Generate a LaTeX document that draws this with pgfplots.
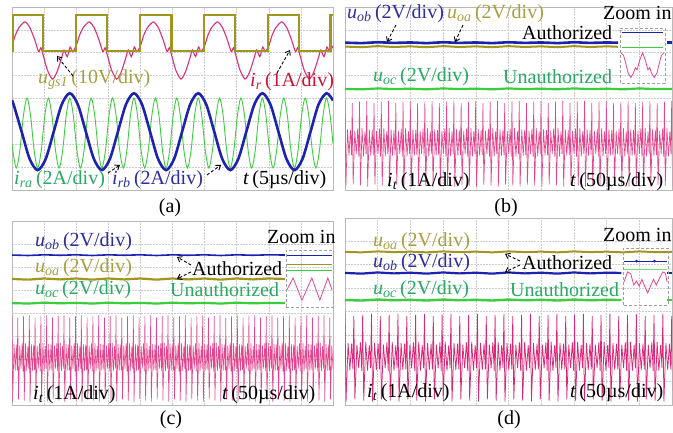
\documentclass[border=0pt]{standalone}
\usepackage{fontspec}
\setmainfont{Liberation Serif}
\usepackage{pgfplots}
\pgfplotsset{compat=1.18}
\usepackage{pgfplotstable}
\usetikzlibrary{arrows.meta}

\definecolor{olv}{RGB}{160,150,30}
\definecolor{olvtxt}{RGB}{168,158,62}
\definecolor{pnk}{RGB}{222,45,125}
\definecolor{pnk2}{RGB}{228,70,142}
\definecolor{pnk3}{RGB}{218,40,120}
\definecolor{redtxt}{RGB}{200,20,50}
\definecolor{blu}{RGB}{30,35,175}
\definecolor{blutxt}{RGB}{45,45,160}
\definecolor{grn}{RGB}{60,205,60}
\definecolor{grntxt}{RGB}{40,170,100}

\newcommand{\sub}[2]{\textit{#1}\textsubscript{\textit{#2}}}

\pgfplotsset{
  osc/.style={scale only axis, anchor=south west, xmin=0, xmax=10, ymin=0, ymax=8,
    xtick={1,...,9}, ytick={1,...,7}, xticklabels={}, yticklabels={},
    major tick length=0pt, grid=major,
    major grid style={gray!40, dash pattern=on 1.5pt off 1.5pt, line width=0.5pt},
    axis line style={gray!55, line width=0.6pt}},
  ins/.style={scale only axis, anchor=south west, hide axis, xmin=0, xmax=1, ymin=0, ymax=1}
}

\pgfplotstableread[row sep=\\]{
x y\\
0 3.9\\0.12 0.15\\0.35 2.65\\0.55 1.5\\0.75 2.62\\0.9 1.52\\
1 3.8\\1.12 0.24\\1.35 2.58\\1.55 1.58\\1.75 2.68\\1.9 1.46\\
2 3.86\\2.12 0.19\\2.35 2.7\\2.55 1.47\\2.75 2.56\\2.9 1.58\\
3 3.9\\3.12 0.15\\3.35 2.65\\3.55 1.5\\3.75 2.62\\3.9 1.52\\
4 3.8\\4.12 0.24\\4.35 2.58\\4.55 1.58\\4.75 2.68\\4.9 1.46\\
5 3.86\\5.12 0.19\\5.35 2.7\\5.55 1.47\\5.75 2.56\\5.9 1.58\\
6 3.9\\6.12 0.15\\6.35 2.65\\6.55 1.5\\6.75 2.62\\6.9 1.52\\
7 3.8\\7.12 0.24\\7.35 2.58\\7.55 1.58\\7.75 2.68\\7.9 1.46\\
8 3.86\\8.12 0.19\\8.35 2.7\\8.55 1.47\\8.75 2.56\\8.9 1.58\\
9 3.9\\9.12 0.15\\9.35 2.65\\9.55 1.5\\9.75 2.62\\9.9 1.52\\
10 3.8\\10.12 0.24\\10.35 2.58\\10.55 1.58\\10.75 2.68\\10.9 1.46\\
11 3.86\\11.12 0.19\\11.35 2.7\\11.55 1.47\\11.75 2.56\\11.9 1.58\\
12 3.9\\12.12 0.15\\12.35 2.65\\12.55 1.5\\12.75 2.62\\12.9 1.52\\
13 3.8\\13.12 0.24\\13.35 2.58\\13.55 1.58\\13.75 2.68\\13.9 1.46\\
14 3.86\\14.12 0.19\\14.35 2.7\\14.55 1.47\\14.75 2.56\\14.9 1.58\\
15 3.9\\15.12 0.15\\15.35 2.65\\15.55 1.5\\15.75 2.62\\15.9 1.52\\
16 3.8\\16.12 0.24\\16.35 2.58\\16.55 1.58\\16.75 2.68\\16.9 1.46\\
17 3.86\\17.12 0.19\\17.35 2.7\\17.55 1.47\\17.75 2.56\\17.9 1.58\\
18 3.9\\18.12 0.15\\18.35 2.65\\18.55 1.5\\18.75 2.62\\18.9 1.52\\
19 3.8\\19.12 0.24\\19.35 2.58\\19.55 1.58\\19.75 2.68\\19.9 1.46\\
20 3.86\\20.12 0.19\\20.35 2.7\\20.55 1.47\\20.75 2.56\\20.9 1.58\\
21 3.9\\21.12 0.15\\21.35 2.65\\21.55 1.5\\21.75 2.62\\21.9 1.52\\
22 3.8\\22.12 0.24\\22.35 2.58\\22.55 1.58\\22.75 2.68\\22.9 1.46\\
23 3.86\\23.12 0.19\\23.35 2.7\\23.55 1.47\\23.75 2.56\\23.9 1.58\\
24 3.9\\24.12 0.15\\24.35 2.65\\24.55 1.5\\24.75 2.62\\24.9 1.52\\
25 3.8\\25.12 0.24\\25.35 2.58\\25.55 1.58\\25.75 2.68\\25.9 1.46\\
26 3.86\\26.12 0.19\\26.35 2.7\\26.55 1.47\\26.75 2.56\\26.9 1.58\\
27 3.9\\27.12 0.15\\27.35 2.65\\27.55 1.5\\27.75 2.62\\27.9 1.52\\
28 3.8\\28.12 0.24\\28.35 2.58\\28.55 1.58\\28.75 2.68\\28.9 1.46\\
29 3.86\\29.12 0.19\\29.35 2.7\\29.55 1.47\\29.75 2.56\\29.9 1.58\\
30 3.9\\30.12 0.15\\30.35 2.65\\30.55 1.5\\30.75 2.62\\30.9 1.52\\
31 3.8\\31.12 0.24\\31.35 2.58\\31.55 1.58\\31.75 2.68\\31.9 1.46\\
32 3.86\\32.12 0.19\\32.35 2.7\\32.55 1.47\\32.75 2.56\\32.9 1.58\\
33 3.9\\33.12 0.15\\33.35 2.65\\33.55 1.5\\33.75 2.62\\33.9 1.52\\
34 3.8\\34.12 0.24\\34.35 2.58\\34.55 1.58\\34.75 2.68\\34.9 1.46\\
35 3.86\\35.12 0.19\\35.35 2.7\\35.55 1.47\\35.75 2.56\\35.9 1.58\\
36 3.9\\36.12 0.15\\36.35 2.65\\36.55 1.5\\36.75 2.62\\36.9 1.52\\
37 3.8\\37.12 0.24\\37.35 2.58\\37.55 1.58\\37.75 2.68\\37.9 1.46\\
38 3.86\\38.12 0.19\\38.35 2.7\\38.55 1.47\\38.75 2.56\\38.9 1.58\\
39 3.9\\39.12 0.15\\39.35 2.65\\39.55 1.5\\39.75 2.62\\39.9 1.52\\
40 3.8\\40.12 0.24\\40.35 2.58\\40.55 1.58\\40.75 2.68\\40.9 1.46\\
41 3.86\\41.12 0.19\\41.35 2.7\\41.55 1.47\\41.75 2.56\\41.9 1.58\\
42 3.9\\42.12 0.15\\42.35 2.65\\42.55 1.5\\42.75 2.62\\42.9 1.52\\
43 3.8\\43.12 0.24\\43.35 2.58\\43.55 1.58\\43.75 2.68\\43.9 1.46\\
44 3.86\\44.12 0.19\\44.35 2.7\\44.55 1.47\\44.75 2.56\\44.9 1.58\\
45 3.9\\45.12 0.15\\45.35 2.65\\45.55 1.5\\45.75 2.62\\45.9 1.52\\
46 3.8\\46.12 0.24\\46.35 2.58\\46.55 1.58\\46.75 2.68\\46.9 1.46\\
47 3.86\\47.12 0.19\\47.35 2.7\\47.55 1.47\\47.75 2.56\\47.9 1.58\\
48 3.9\\48.12 0.15\\48.35 2.65\\48.55 1.5\\48.75 2.62\\48.9 1.52\\
49 3.8\\49.12 0.24\\49.35 2.58\\49.55 1.58\\49.75 2.68\\49.9 1.46\\
50 3.86\\50.12 0.19\\50.35 2.7\\50.55 1.47\\50.75 2.56\\50.9 1.58\\
51 3.9\\51.12 0.15\\51.35 2.65\\51.55 1.5\\51.75 2.62\\51.9 1.52\\
52 3.8\\52.12 0.24\\52.35 2.58\\52.55 1.58\\52.75 2.68\\52.9 1.46\\
53 3.86\\53.12 0.19\\53.35 2.7\\53.55 1.47\\53.75 2.56\\53.9 1.58\\
54 3.9\\54.12 0.15\\54.35 2.65\\54.55 1.5\\54.75 2.62\\54.9 1.52\\
55 3.8\\55.12 0.24\\55.35 2.58\\55.55 1.58\\55.75 2.68\\55.9 1.46\\
56 3.86\\56.12 0.19\\56.35 2.7\\56.55 1.47\\56.75 2.56\\56.9 1.58\\
57 3.9\\57.12 0.15\\57.35 2.65\\57.55 1.5\\57.75 2.62\\57.9 1.52\\
58 3.8\\58.12 0.24\\58.35 2.58\\58.55 1.58\\58.75 2.68\\58.9 1.46\\
59 3.86\\59.12 0.19\\59.35 2.7\\59.55 1.47\\59.75 2.56\\59.9 1.58\\
60 3.9\\60.12 0.15\\60.35 2.65\\60.55 1.5\\
}\pinktab

\tikzset{ann/.style={densely dashed, line width=0.9pt, black, -{Straight Barb[length=4pt,width=6pt]}}}

\begin{document}
\begin{tikzpicture}[x=1pt, y=1pt, every node/.style={font=\fontsize{20}{22}\selectfont, inner sep=0pt}]
\useasboundingbox (0,0) rectangle (673,433);

% ---------------- (a) ----------------
\begin{axis}[osc, at={(12pt,243pt)}, width=321pt, height=183pt]
\addplot[pnk, line width=1.1pt, smooth, tension=0.4] coordinates {
(0,6.3)(0.1,6.75)(0.22,7.1)(0.4,7.35)(0.55,7.12)(0.7,6.6)(0.83,6.05)(0.9,6.22)(0.97,5.9)(1.1,5.25)(1.26,4.85)(1.4,5.15)(1.55,5.8)(1.62,6.12)(1.72,5.83)(1.81,6.25)(1.89,6.05)
(2,6.3)(2.1,6.75)(2.22,7.1)(2.4,7.35)(2.55,7.12)(2.7,6.6)(2.83,6.05)(2.9,6.22)(2.97,5.9)(3.1,5.25)(3.26,4.85)(3.4,5.15)(3.55,5.8)(3.62,6.12)(3.72,5.83)(3.81,6.25)(3.89,6.05)
(4,6.3)(4.1,6.75)(4.22,7.1)(4.4,7.35)(4.55,7.12)(4.7,6.6)(4.83,6.05)(4.9,6.22)(4.97,5.9)(5.1,5.25)(5.26,4.85)(5.4,5.15)(5.55,5.8)(5.62,6.12)(5.72,5.83)(5.81,6.25)(5.89,6.05)
(6,6.3)(6.1,6.75)(6.22,7.1)(6.4,7.35)(6.55,7.12)(6.7,6.6)(6.83,6.05)(6.9,6.22)(6.97,5.9)(7.1,5.25)(7.26,4.85)(7.4,5.15)(7.55,5.8)(7.62,6.12)(7.72,5.83)(7.81,6.25)(7.89,6.05)
(8,6.3)(8.1,6.75)(8.22,7.1)(8.4,7.35)(8.55,7.12)(8.7,6.6)(8.83,6.05)(8.9,6.22)(8.97,5.9)(9.1,5.25)(9.26,4.85)(9.4,5.15)(9.55,5.8)(9.62,6.12)(9.72,5.83)(9.81,6.25)(9.89,6.05)
(10,6.3)};
\addplot[olv, line width=2.2pt] coordinates {(0,6.08)(0.02,6.08)(0.02,7.65)(0.97,7.65)(0.97,6.08)(1.99,6.08)(1.99,7.65)(2.97,7.65)(2.97,6.08)(3.99,6.08)(3.99,7.65)(4.97,7.65)(4.97,6.08)(5.97,6.08)(5.97,7.65)(6.95,7.65)(6.95,6.08)(7.98,6.08)(7.98,7.65)(8.93,7.65)(8.93,6.08)(9.92,6.08)(9.92,7.65)(10,7.65)};
\addplot[olv, line width=2.4pt, unbounded coords=jump] coordinates {(0.97,6.08)(1.99,6.08)(nan,nan)(2.97,6.08)(3.99,6.08)(nan,nan)(4.97,6.08)(5.97,6.08)(nan,nan)(6.95,6.08)(7.98,6.08)(nan,nan)(8.93,6.08)(9.92,6.08)};
\addplot[grn, line width=0.9pt, smooth] coordinates {
(0,2.02)(0.022,1.73)(0.133,0.96)(0.244,1.73)(0.356,3.25)(0.467,4.02)(0.578,3.25)(0.689,1.73)
(0.8,0.96)(0.911,1.73)(1.022,3.25)(1.133,4.02)(1.244,3.25)(1.356,1.73)
(1.467,0.96)(1.578,1.73)(1.689,3.25)(1.8,4.02)(1.911,3.25)(2.022,1.73)
(2.133,0.96)(2.244,1.73)(2.356,3.25)(2.467,4.02)(2.578,3.25)(2.689,1.73)
(2.8,0.96)(2.911,1.73)(3.022,3.25)(3.133,4.02)(3.244,3.25)(3.356,1.73)
(3.467,0.96)(3.578,1.73)(3.689,3.25)(3.8,4.02)(3.911,3.25)(4.022,1.73)
(4.133,0.96)(4.244,1.73)(4.356,3.25)(4.467,4.02)(4.578,3.25)(4.689,1.73)
(4.8,0.96)(4.911,1.73)(5.022,3.25)(5.133,4.02)(5.244,3.25)(5.356,1.73)
(5.467,0.96)(5.578,1.73)(5.689,3.25)(5.8,4.02)(5.911,3.25)(6.022,1.73)
(6.133,0.96)(6.244,1.73)(6.356,3.25)(6.467,4.02)(6.578,3.25)(6.689,1.73)
(6.8,0.96)(6.911,1.73)(7.022,3.25)(7.133,4.02)(7.244,3.25)(7.356,1.73)
(7.467,0.96)(7.578,1.73)(7.689,3.25)(7.8,4.02)(7.911,3.25)(8.022,1.73)
(8.133,0.96)(8.244,1.73)(8.356,3.25)(8.467,4.02)(8.578,3.25)(8.689,1.73)
(8.8,0.96)(8.911,1.73)(9.022,3.25)(9.133,4.02)(9.244,3.25)(9.356,1.73)
(9.467,0.96)(9.578,1.73)(9.689,3.25)(9.8,4.02)(9.911,3.25)(10,2.02)};
\addplot[blu, line width=2.6pt, smooth] coordinates {
(0,3.91)(0.05,3.74)(0.3,2.55)(0.55,1.36)(0.8,0.87)(1.05,1.36)(1.3,2.55)(1.55,3.74)(1.8,4.23)
(2.05,3.74)(2.3,2.55)(2.55,1.36)(2.8,0.87)(3.05,1.36)(3.3,2.55)(3.55,3.74)(3.8,4.23)
(4.05,3.74)(4.3,2.55)(4.55,1.36)(4.8,0.87)(5.05,1.36)(5.3,2.55)(5.55,3.74)(5.8,4.23)
(6.05,3.74)(6.3,2.55)(6.55,1.36)(6.8,0.87)(7.05,1.36)(7.3,2.55)(7.55,3.74)(7.8,4.23)
(8.05,3.74)(8.3,2.55)(8.55,1.36)(8.8,0.87)(9.05,1.36)(9.3,2.55)(9.55,3.74)(9.8,4.23)(10,3.91)};
\end{axis}

% ---------------- (b) ----------------
\begin{axis}[osc, at={(345pt,243pt)}, width=327pt, height=183pt]
\addplot[olv, line width=2pt] coordinates {(0,6.27)(0.5,6.24)(1,6.29)(1.5,6.25)(2,6.28)(2.5,6.24)(3,6.29)(3.5,6.25)(4,6.28)(4.5,6.24)(5,6.29)(5.5,6.25)(6,6.28)(6.5,6.24)(7,6.29)(7.5,6.25)(8,6.28)(8.35,6.26)};
\addplot[blu, line width=2.6pt] coordinates {(0,6.44)(0.5,6.42)(1,6.46)(1.5,6.43)(2,6.45)(2.5,6.42)(3,6.46)(3.5,6.43)(4,6.45)(4.5,6.42)(5,6.46)(5.5,6.43)(6,6.45)(6.5,6.42)(7,6.46)(7.5,6.43)(8,6.45)(8.35,6.44)};
\addplot[blu, line width=2.6pt] coordinates {(9.85,6.44)(10,6.44)};
\addplot[grn, line width=2.2pt] coordinates {(0,4.42)(0.5,4.4)(1,4.44)(1.5,4.41)(2,4.43)(2.5,4.4)(3,4.44)(3.5,4.41)(4,4.43)(4.5,4.4)(5,4.44)(5.5,4.41)(6,4.43)(6.5,4.4)(7,4.44)(7.5,4.41)(8,4.43)(8.5,4.4)(9,4.44)(9.5,4.41)(10,4.42)};
\addplot[pnk2, line width=0.65pt] table[x expr=\thisrow{x}*0.222, y=y] {\pinktab};
\end{axis}
\begin{axis}[ins, at={(620pt,350pt)}, width=45pt, height=55pt]
\addplot[blu, line width=1pt] coordinates {(0.05,0.91)(0.95,0.91)};
\addplot[grn, line width=1pt] coordinates {(0.05,0.64)(0.95,0.64)};
\addplot[pnk2, line width=0.8pt] coordinates {(0.02,0.55)(0.08,0.5)(0.13,0.35)(0.18,0.18)(0.24,0.1)(0.3,0.18)(0.34,0.28)(0.38,0.24)(0.44,0.42)(0.5,0.55)(0.56,0.42)(0.62,0.24)(0.66,0.28)(0.7,0.18)(0.76,0.1)(0.82,0.18)(0.87,0.35)(0.92,0.5)(0.98,0.55)};
\end{axis}
\draw[densely dashed, gray!75, line width=0.8pt] (620,350) rectangle (665,405);

% ---------------- (c) ----------------
\begin{axis}[osc, at={(12pt,28pt)}, width=321pt, height=184pt]
\addplot[blu, line width=1.6pt] coordinates {(0,6.52)(0.5,6.5)(1,6.53)(1.5,6.51)(2,6.53)(2.5,6.5)(3,6.53)(3.5,6.51)(4,6.53)(4.5,6.5)(5,6.53)(5.5,6.51)(6,6.53)(6.5,6.5)(7,6.53)(7.5,6.51)(8,6.53)(8.5,6.52)};
\addplot[olv, line width=2.2pt] coordinates {(0,5.48)(0.5,5.45)(1,5.5)(1.5,5.46)(2,5.5)(2.5,5.45)(3,5.5)(3.5,5.46)(4,5.5)(4.5,5.45)(5,5.5)(5.5,5.46)(6,5.5)(6.5,5.45)(7,5.5)(7.5,5.46)(8,5.5)(8.5,5.48)};
\addplot[grn, line width=2.2pt] coordinates {(0,4.43)(0.5,4.41)(1,4.45)(1.5,4.42)(2,4.44)(2.5,4.41)(3,4.45)(3.5,4.42)(4,4.44)(4.5,4.41)(5,4.45)(5.5,4.42)(6,4.44)(6.5,4.41)(7,4.45)(7.5,4.42)(8,4.44)(8.5,4.43)};
\addplot[pnk2, line width=0.6pt] table[x expr=\thisrow{x}*0.18, y=y] {\pinktab};
\end{axis}
\begin{axis}[ins, at={(286pt,126pt)}, width=47pt, height=57pt]
\addplot[blu, line width=0.8pt] coordinates {(0.03,0.91)(0.97,0.91)};
\addplot[olv, line width=0.8pt] coordinates {(0.03,0.74)(0.97,0.74)};
\addplot[grn, line width=0.8pt] coordinates {(0.03,0.65)(0.97,0.65)};
\addplot[pnk2, line width=0.8pt] coordinates {(0.02,0.3)(0.15,0.51)(0.34,0.12)(0.55,0.51)(0.72,0.12)(0.89,0.51)(0.98,0.3)};
\end{axis}
\draw[densely dashed, gray!75, line width=0.8pt] (286,126) rectangle (333,183);

% ---------------- (d) ----------------
\begin{axis}[osc, at={(345pt,28pt)}, width=327pt, height=187pt]
\addplot[olv, line width=2pt] coordinates {(0,6.55)(0.5,6.53)(1,6.57)(1.5,6.54)(2,6.56)(2.5,6.53)(3,6.57)(3.5,6.54)(4,6.56)(4.5,6.53)(5,6.57)(5.5,6.54)(6,6.56)(6.5,6.53)(7,6.57)(7.5,6.54)(8,6.56)(8.5,6.53)(9,6.57)(9.5,6.54)(10,6.55)};
\addplot[blu, line width=2.2pt] coordinates {(0,5.65)(0.5,5.62)(1,5.67)(1.5,5.63)(2,5.66)(2.5,5.62)(3,5.67)(3.5,5.63)(4,5.66)(4.5,5.62)(5,5.67)(5.5,5.63)(6,5.66)(6.5,5.62)(7,5.67)(7.5,5.63)(8,5.66)(8.45,5.65)};
\addplot[blu, line width=2.2pt] coordinates {(9.85,5.65)(10,5.65)};
\addplot[grn, line width=2.4pt] coordinates {(0,4.49)(0.5,4.47)(1,4.51)(1.5,4.48)(2,4.5)(2.5,4.47)(3,4.51)(3.5,4.48)(4,4.5)(4.5,4.47)(5,4.51)(5.5,4.48)(6,4.5)(6.5,4.47)(7,4.51)(7.5,4.48)(8,4.5)(8.45,4.49)};
\addplot[grn, line width=2.4pt] coordinates {(9.85,4.49)(10,4.49)};
\addplot[pnk3, line width=0.75pt] table[x expr=\thisrow{x}*0.27, y=y] {\pinktab};
\end{axis}
\begin{axis}[ins, at={(623pt,128pt)}, width=45pt, height=57pt]
\addplot[blu, line width=0.8pt, mark=*, mark size=1pt, mark indices={2,4}] coordinates {(0.03,0.77)(0.3,0.77)(0.5,0.77)(0.7,0.77)(0.97,0.77)};
\addplot[grn!70, line width=0.8pt] coordinates {(0.03,0.63)(0.97,0.63)};
\addplot[pnk2, line width=0.8pt] coordinates {(0.02,0.4)(0.1,0.58)(0.17,0.55)(0.24,0.35)(0.3,0.42)(0.36,0.33)(0.42,0.45)(0.48,0.33)(0.55,0.21)(0.62,0.35)(0.68,0.45)(0.74,0.35)(0.8,0.45)(0.88,0.58)(0.94,0.56)(0.98,0.4)};
\end{axis}
\draw[densely dashed, gray!75, line width=0.8pt] (623,128) rectangle (668,185);

% ---------------- text: (a) ----------------
\node[anchor=west, text=olvtxt] at (38,353) {\sub{u}{gs1}\,(10V/div)};
\node[anchor=west, text=redtxt] at (250,351) {\sub{i}{r}\,(1A/div)};
\node[anchor=west, text=grntxt] at (14,253) {\sub{i}{ra}\,(2A/div)};
\node[anchor=west, text=blutxt] at (112,253) {\sub{i}{rb}\,(2A/div)};
\node[anchor=west, text=black] at (243,253) {\textit{t}\,(5µs/div)};
\node at (170,225) {(a)};
\draw[ann] (73,357) -- (57,377);
\draw[ann] (277,360) -- (290,383);
\draw[ann] (108,260) -- (120,268);
\draw[ann] (207,258) -- (221,268);

% ---------------- text: (b) ----------------
\node[anchor=west, text=blutxt] at (347,419) {\sub{u}{ob}\,(2V/div)};
\node[anchor=west, text=olvtxt] at (447,419) {\sub{u}{oa}\,(2V/div)};
\node[anchor=west] at (603,420) {Zoom in};
\node[anchor=west] at (522,400) {Authorized};
\node[anchor=west, text=grntxt] at (373,356) {\sub{u}{oc}\,(2V/div)};
\node[anchor=west, text=grntxt] at (503,356) {Unauthorized};
\node[anchor=west] at (387,251) {\sub{i}{t}\,(1A/div)};
\node[anchor=west] at (570,251) {\textit{t}\,(50µs/div)};
\node at (506,225) {(b)};
\draw[ann] (396,408) -- (387,391);
\draw[ann] (463,408) -- (455,391);

% ---------------- text: (c) ----------------
\node[anchor=west, text=blutxt] at (35,191) {\sub{u}{ob}\,(2V/div)};
\node[anchor=west] at (267,196) {Zoom in};
\node[anchor=west, text=olvtxt] at (35,165) {\sub{u}{oa}\,(2V/div)};
\node[anchor=west] at (192,164) {Authorized};
\node[anchor=west, text=grntxt] at (35,143) {\sub{u}{oc}\,(2V/div)};
\node[anchor=west, text=grntxt] at (170,143) {Unauthorized};
\node[anchor=west] at (33,38) {\sub{i}{t}\,(1A/div)};
\node[anchor=west] at (222,38) {\textit{t}\,(50µs/div)};
\node at (171,13) {(c)};
\draw[ann] (191,168) -- (177,176);
\draw[ann] (191,161) -- (177,154);

% ---------------- text: (d) ----------------
\node[anchor=west, text=olvtxt] at (373,191) {\sub{u}{oa}\,(2V/div)};
\node[anchor=west] at (603,198) {Zoom in};
\node[anchor=west, text=blutxt] at (373,170) {\sub{u}{ob}\,(2V/div)};
\node[anchor=west] at (522,170) {Authorized};
\node[anchor=west, text=grntxt] at (373,143) {\sub{u}{oc}\,(2V/div)};
\node[anchor=west, text=grntxt] at (510,143) {Unauthorized};
\node[anchor=west] at (367,40) {\sub{i}{t}\,(1A/div)};
\node[anchor=west] at (570,40) {\textit{t}\,(50µs/div)};
\node at (509,13) {(d)};
\draw[ann] (520,172) -- (505,179);
\draw[ann] (520,168) -- (505,161);
\end{tikzpicture}
\end{document}
